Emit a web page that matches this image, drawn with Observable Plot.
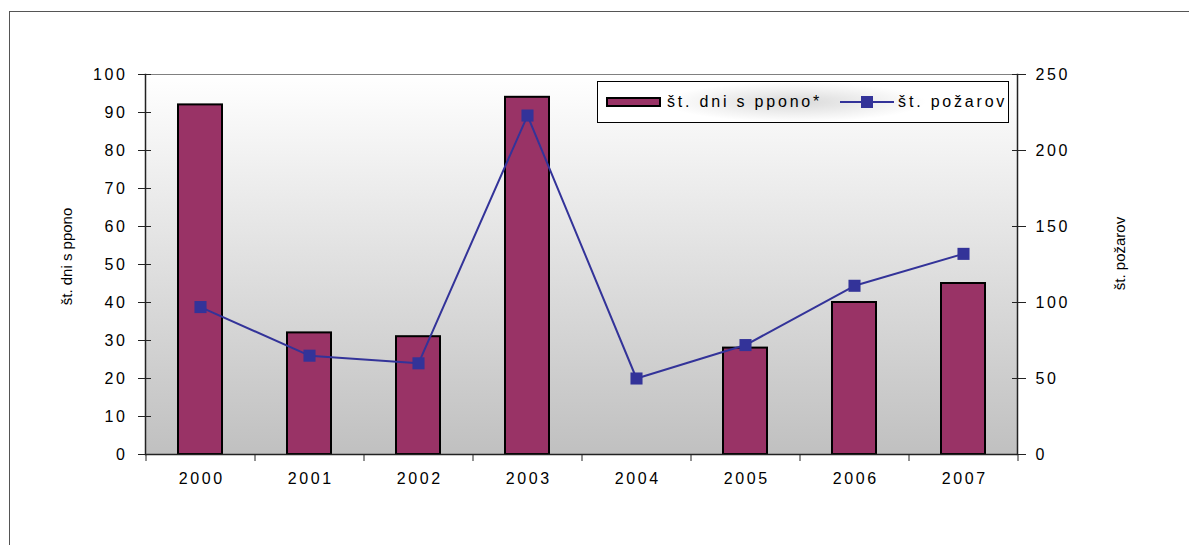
<!DOCTYPE html>
<html><head><meta charset="utf-8">
<script src="https://cdn.jsdelivr.net/npm/d3@7"></script>
<script src="https://cdn.jsdelivr.net/npm/@observablehq/plot@0.6"></script>
<style>
body{margin:0;background:#fff;font-family:"Liberation Sans",Arial,sans-serif;}
#wrap{position:relative;width:1189px;height:545px;overflow:hidden;background:#fff;}
#outer{position:absolute;left:9px;top:11px;width:1300px;height:700px;border-left:1px solid #555;border-top:1px solid #555;}
#chart{position:absolute;left:0;top:0;}
#legend{position:absolute;left:597px;top:81px;width:410px;height:40px;border:1px solid #000;
  background:radial-gradient(ellipse 32% 50% at 48% 50%, #d9d9d9 0%, #ffffff 100%);
  display:flex;align-items:center;font-size:16px;letter-spacing:2.8px;color:#000;white-space:nowrap;}
.sw{display:inline-block;width:51px;height:6px;border:2px solid #000;background:#993366;margin-left:8px;}
.t1{margin-left:6px;}
.ln{margin-left:18px;display:block;}
.t2{margin-left:4px;}
</style></head>
<body><div id="wrap"><div id="outer"></div><div id="chart"></div>
<div id="legend"><span class="sw"></span><span class="t1">št. dni s ppono*</span>
<svg class="ln" width="54" height="14"><line x1="0" x2="54" y1="7" y2="7" stroke="#333399" stroke-width="2"/><rect x="21" y="1" width="12" height="12" fill="#333399"/></svg>
<span class="t2">št. požarov</span></div></div>
<script>
const years = ["2000","2001","2002","2003","2004","2005","2006","2007"];
const daysPPONO = [92,32,31,94,null,28,40,45];
const fires = [97,65,60,223,50,72,111,132];
const leftTicks = [0,10,20,30,40,50,60,70,80,90,100];
const rightTicks = [0,50,100,150,200,250];
const leftLabel = "št. dni s ppono";
const rightLabel = "št. požarov";

const ratio = 100 / 250;
const data = years.map((year, i) => ({year, days: daysPPONO[i], fires: fires[i]}));
const W = 1189, H = 545, mL = 145, mR = 172, mT = 74, mB = 91;
const step = (W - mL - mR) / years.length;
const axisColor = "#222";

const svg = Plot.plot({
  width: W, height: H, marginLeft: mL, marginRight: mR, marginTop: mT, marginBottom: mB,
  style: {background: "transparent", fontFamily: "'Liberation Sans', Arial, sans-serif", fontSize: "16px", color: "#000", overflow: "visible"},
  x: {type: "band", domain: years, paddingInner: 0.6, paddingOuter: 0.3},
  y: {domain: [0, 100]},
  marks: [
    Plot.frame({fill: "url(#plotbg)", stroke: "#808080"}),
    Plot.barY(data.filter(d => d.days != null), {x: "year", y: "days", fill: "#993366", stroke: "#000", strokeWidth: 2}),
    Plot.line(data, {x: "year", y: d => d.fires * ratio, stroke: "#333399", strokeWidth: 2}),
    Plot.dot(data, {x: "year", y: d => d.fires * ratio, symbol: "square", r: 6.8, fill: "#333399", stroke: "none"}),
    Plot.frame({anchor: "left", stroke: axisColor, strokeWidth: 1.5}),
    Plot.frame({anchor: "right", stroke: axisColor, strokeWidth: 1.5}),
    Plot.ruleY([0], {stroke: axisColor, strokeWidth: 1.5}),
    Plot.ruleX(years, {x: d => d, y1: 0, y2: 0, insetBottom: -7, dx: -step / 2, stroke: axisColor}),
    Plot.ruleX(years.slice(-1), {x: d => d, y1: 0, y2: 0, insetBottom: -7, dx: step / 2, stroke: axisColor}),
    Plot.axisX({tickSize: 0, tickPadding: 18, fontSize: 16, dx: 1.3, label: null}),
    Plot.axisY({anchor: "left", ticks: leftTicks, tickSize: 13, tickPadding: 11, dx: 6, fontSize: 16, label: null, stroke: axisColor}),
    Plot.axisY({anchor: "right", ticks: rightTicks.map(v => v * ratio), tickFormat: v => Math.round(v / ratio), tickSize: 14, tickPadding: 10, dx: -6, fontSize: 16, label: null, stroke: axisColor}),
    Plot.text([leftLabel], {text: d => d, frameAnchor: "left", textAnchor: "middle", dx: -78, dy: -8, rotate: -90, fontSize: 15}),
    Plot.text([rightLabel], {text: d => d, frameAnchor: "right", textAnchor: "middle", dx: 103, dy: -11, rotate: -90, fontSize: 15})
  ]
});

const defs = d3.select(svg).insert("defs", ":first-child");
const g = defs.append("linearGradient").attr("id", "plotbg").attr("x1", 0).attr("y1", 0).attr("x2", 0).attr("y2", 1);
g.append("stop").attr("offset", "0%").attr("stop-color", "#ffffff");
g.append("stop").attr("offset", "100%").attr("stop-color", "#c0c0c0");
d3.select(svg).selectAll("text").style("letter-spacing", function() {
  const t = this.textContent;
  return (t === leftLabel || t === rightLabel) ? "0px" : "2.6px";
});
document.getElementById("chart").appendChild(svg);
</script>
</body></html>
